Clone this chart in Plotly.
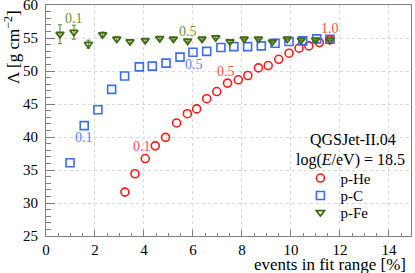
import plotly.graph_objects as go

# ---- data ----
he_x = [3.22, 3.63, 4.05, 4.46, 4.88, 5.33, 5.77, 6.15, 6.56, 6.97, 7.41, 7.85, 8.24, 8.67, 9.07, 9.50, 9.92, 10.33, 10.73, 11.16, 11.59]
he_y = [31.65, 34.43, 36.74, 38.66, 39.95, 42.13, 43.53, 44.26, 45.80, 46.89, 48.17, 48.67, 49.32, 50.48, 50.83, 51.77, 52.70, 53.46, 53.80, 54.30, 54.71]

c_x = [0.98, 1.56, 2.12, 2.68, 3.21, 3.81, 4.34, 4.90, 5.47, 6.00, 6.56, 7.14, 7.67, 8.23, 8.79, 9.35, 9.92, 10.48, 11.05, 11.59]
c_y = [36.09, 41.72, 44.14, 47.21, 49.24, 50.63, 50.74, 51.19, 52.10, 52.85, 52.97, 53.55, 53.70, 53.70, 53.81, 54.21, 54.46, 54.56, 54.86, 54.82]

fe_x = [0.57, 1.14, 1.73, 2.31, 2.89, 3.43, 4.05, 4.64, 5.20, 5.78, 6.37, 6.93, 7.51, 8.09, 8.67, 9.24, 9.85, 10.42, 11.01, 11.59]
fe_y = [55.57, 55.88, 54.06, 55.51, 54.85, 54.46, 54.64, 54.94, 54.86, 54.56, 54.86, 55.06, 54.46, 54.86, 54.86, 54.41, 54.86, 54.71, 54.71, 54.71]
fe_err = [1.43, 1.06, 0.6, 0.4, 0.3, 0.2, 0.2, 0.2, 0.15, 0.15, 0.15, 0.15, 0.15, 0.1, 0.1, 0.1, 0.1, 0.1, 0.1, 0.1]

# fraction labels: (text, x, y)
he_labels = [("0.1", 3.90, 38.5), ("0.5", 7.33, 49.93), ("1.0", 11.59, 56.48)]
c_labels = [("0.1", 1.56, 40.0), ("0.5", 6.04, 51.04)]
fe_labels = [("0.1", 1.16, 57.99), ("0.5", 5.81, 55.97)]

x_ticks = [0, 2, 4, 6, 8, 10, 12, 14]
y_ticks = [25, 30, 35, 40, 45, 50, 55, 60]

RED = "#ff1a1a"
BLUE = "#3d6cf0"
GREEN = "#3f6a12"
FONT = "Liberation Serif"
AX = "#808080"

fig = go.Figure()
fig.add_trace(go.Scatter(x=he_x, y=he_y, mode="markers", name="p-He", legend="legend",
                         marker=dict(symbol="circle-open", size=8, color=RED, line=dict(width=1.6, color=RED))))
fig.add_trace(go.Scatter(x=c_x, y=c_y, mode="markers", name="p-C", legend="legend2",
                         marker=dict(symbol="square-open", size=8, color=BLUE, line=dict(width=1.6, color=BLUE))))
fig.add_trace(go.Scatter(x=fe_x, y=fe_y, mode="markers", name="p-Fe", legend="legend3",
                         error_y=dict(type="data", array=fe_err, width=2, thickness=1, color="#5a7d2a"),
                         marker=dict(symbol="triangle-down-open", size=7, color=GREEN, line=dict(width=1.8, color=GREEN))))

ann = []
for lbls, col in ((he_labels, "#ff5050"), (c_labels, "#5a86f2"), (fe_labels, "#6e8f3a")):
    for t, x, y in lbls:
        ann.append(dict(x=x, y=y, xref="x", yref="y", text=t, showarrow=False,
                        font=dict(family=FONT, size=14, color=col), xanchor="center", yanchor="middle"))

ann.append(dict(x=0.842, y=0.418, xref="paper", yref="paper", text="QGSJet-II.04", showarrow=False,
                font=dict(family=FONT, size=16, color="black"), xanchor="center", yanchor="middle"))
ann.append(dict(x=0.833, y=0.329, xref="paper", yref="paper", text="log(<i>E</i>/eV) = 18.5", showarrow=False,
                font=dict(family=FONT, size=16, color="black"), xanchor="center", yanchor="middle"))
ann.append(dict(x=0.992, y=-0.125, xref="paper", yref="paper", text="events in fit range [%]", showarrow=False,
                font=dict(family=FONT, size=17, color="black"), xanchor="right", yanchor="middle"))
ann.append(dict(x=-0.093, y=0.818, xref="paper", yref="paper", text="Λ [g cm<sup>−2</sup>]", showarrow=False,
                textangle=-90, font=dict(family=FONT, size=17, color="black"), xanchor="center", yanchor="middle"))

leg_common = dict(x=0.697, xanchor="left", yanchor="middle", bgcolor="rgba(0,0,0,0)",
                  font=dict(family=FONT, size=15), tracegroupgap=0)

fig.update_layout(
    width=415, height=273,
    margin=dict(l=46, r=4, t=5, b=37, autoexpand=False),
    paper_bgcolor="white", plot_bgcolor="white",
    font=dict(family=FONT, size=15, color="black"),
    showlegend=True,
    legend=dict(y=0.2497, **leg_common),
    legend2=dict(y=0.1744, **leg_common),
    legend3=dict(y=0.1009, **leg_common),
    annotations=ann,
)
fig.update_xaxes(range=[0, 14.9], tickvals=x_ticks, ticks="inside", ticklen=6, tickcolor=AX,
                 showline=True, linecolor=AX, linewidth=1, mirror=True, automargin=False,
                 showgrid=True, gridcolor="#d9d9d9", griddash="dot", gridwidth=1, zeroline=False,
                 minor=dict(dtick=0.5, ticks="inside", ticklen=3, tickcolor=AX, showgrid=False),
                 ticklabelstandoff=0, ticklabeloverflow="allow",
                 tickfont=dict(family=FONT, size=15))
fig.update_yaxes(range=[25, 60], tickvals=y_ticks, ticks="inside", ticklen=9, tickcolor=AX,
                 showline=True, linecolor=AX, linewidth=1, mirror=True, automargin=False,
                 showgrid=True, gridcolor="#d9d9d9", griddash="dot", gridwidth=1, zeroline=False,
                 minor=dict(dtick=1, ticks="inside", ticklen=5, tickcolor=AX, showgrid=False),
                 ticklabelstandoff=4, ticklabeloverflow="allow",
                 tickfont=dict(family=FONT, size=15))

fig.write_html("out.html", config={"displayModeBar": False},
               post_script="document.body.style.margin='0';document.body.style.overflow='hidden';")
